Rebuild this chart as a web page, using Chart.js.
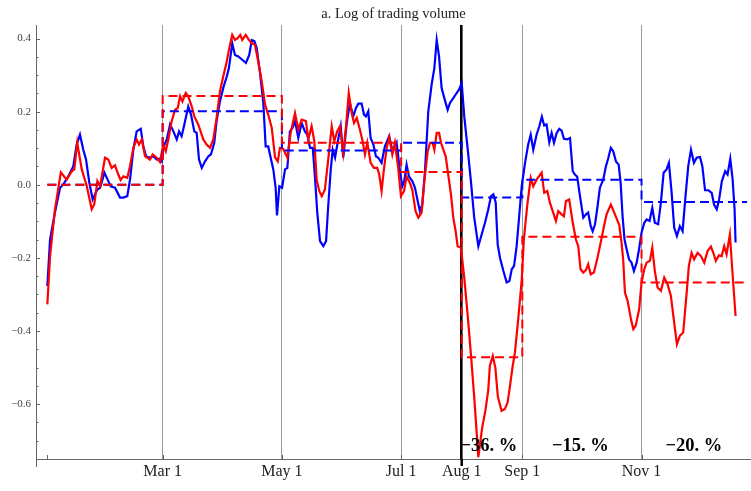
<!DOCTYPE html>
<html>
<head>
<meta charset="utf-8">
<script src="https://cdn.jsdelivr.net/npm/chart.js@4.4.0/dist/chart.umd.min.js"></script>
<style>
  html, body { margin: 0; padding: 0; background: #fff; }
  #wrap { width: 751px; height: 491px; }
</style>
</head>
<body>
<div id="wrap"><canvas id="myChart" width="751" height="491"></canvas></div>
<script>
// x values are days since Jan 1
var tickDays = [0, 59, 120, 181, 212, 243, 304];
var tickLabels = ["", "Mar 1", "May 1", "Jul 1", "Aug 1", "Sep 1", "Nov 1"];
var yTicks = [-0.6, -0.4, -0.2, 0, 0.2, 0.4];
var yTickLabels = ["\u22120.6", "\u22120.4", "\u22120.2", "0.0", "0.2", "0.4"];

var blueDays = [0, 1.4, 3.9, 6.5, 8.2, 10.7, 13.3, 15.0, 16.7, 18.4, 19.8, 21.5, 23.2, 24.4, 25.6, 27.0, 29.2, 31.2, 32.4, 34.6,
  37.2, 38.9, 40.9, 42.3, 44.0, 45.7, 47.8, 49.1, 50.5, 52.5, 54.2, 56.0, 57.3, 58.5, 59.3, 61.1, 62.8, 64.5, 66.2, 67.4,
  68.7, 70.1, 72.1, 73.5, 75.2, 76.4, 77.6, 79.0, 80.7, 82.4, 83.7, 85.4, 86.6, 88.3, 90.0, 91.8, 92.9, 94.6, 96.0, 97.7,
  99.7, 101.6, 103.3, 104.6, 105.9, 107.1, 108.8, 110.5, 111.7, 113.0, 113.9, 115.6, 116.8, 117.5, 118.7, 120.1, 121.6, 122.8, 124.1, 125.5,
  126.7, 128.4, 130.1, 131.8, 133.0, 134.4, 135.8, 136.9, 138.1, 139.5, 141.2, 142.6, 143.7, 145.0, 146.0, 147.2, 148.8, 150.1, 151.4, 153.1,
  154.8, 156.5, 157.9, 159.1, 160.8, 162.0, 163.0, 164.2, 165.4, 166.8, 168.1, 169.3, 171.0, 172.7, 174.9, 176.7, 178.7, 180.4, 181.6, 182.6,
  183.8, 185.0, 186.7, 188.1, 189.5, 190.6, 191.8, 193.2, 194.9, 196.6, 198.0, 199.2, 200.4, 201.7, 203.1, 204.8, 206.0, 207.7, 209.4, 210.6,
  212.0, 213.3, 215.0, 216.7, 218.4, 220.5, 222.2, 223.9, 225.6, 227.0, 228.2, 229.4, 230.4, 231.6, 233.3, 235.0, 236.4, 237.6, 238.8, 240.1,
  241.4, 242.7, 244.4, 246.0, 247.3, 248.6, 250.3, 251.7, 253.0, 254.2, 255.4, 256.8, 258.0, 259.2, 260.6, 261.9, 263.1, 264.3, 266.0, 267.4,
  268.8, 269.9, 271.1, 272.5, 274.2, 275.6, 276.7, 278.0, 279.0, 280.2, 281.3, 282.7, 284.4, 285.8, 286.9, 288.3, 289.5, 290.9, 292.3, 293.3,
  294.3, 295.3, 296.4, 297.6, 298.9, 300.1, 301.5, 302.7, 304.0, 305.4, 306.6, 308.1, 309.5, 310.8, 312.5, 313.9, 315.3, 316.8, 318.0, 319.4,
  320.7, 322.1, 323.6, 325.0, 326.5, 327.9, 329.3, 330.8, 332.2, 333.9, 335.1, 336.5, 338.2, 339.9, 341.1, 342.5, 343.7, 345.1, 346.8, 348.0,
  349.4, 350.6, 351.6, 352.1];
var blueVals = [-0.277, -0.149, -0.076, -0.008, 0.001, 0.023, 0.051, 0.110, 0.137, 0.096, 0.069, 0.005, -0.040, -0.026, -0.013, -0.008, 0.033, 0.010, -0.004, -0.008,
  -0.035, -0.035, -0.031, 0.014, 0.096, 0.146, 0.153, 0.105, 0.078, 0.074, 0.078, 0.069, 0.071, 0.064, 0.101, 0.124, 0.165, 0.146, 0.124, 0.146,
  0.133, 0.165, 0.214, 0.192, 0.146, 0.142, 0.069, 0.046, 0.064, 0.078, 0.083, 0.115, 0.174, 0.228, 0.265, 0.296, 0.319, 0.387, 0.355, 0.351,
  0.342, 0.333, 0.355, 0.396, 0.393, 0.374, 0.306, 0.224, 0.105, 0.105, 0.083, 0.042, -0.008, -0.084, -0.004, -0.008, 0.042, 0.046, 0.146, 0.156,
  0.174, 0.128, 0.169, 0.146, 0.137, 0.101, 0.101, 0.023, -0.076, -0.154, -0.168, -0.154, -0.058, 0.042, 0.096, 0.074, 0.124, 0.160, 0.074, 0.165,
  0.224, 0.187, 0.210, 0.222, 0.222, 0.192, 0.187, 0.201, 0.128, 0.110, 0.078, 0.074, 0.060, 0.105, 0.133, 0.090, 0.115, 0.037, -0.004, 0.010,
  0.055, 0.023, 0.010, -0.008, -0.045, -0.072, -0.054, 0.037, 0.201, 0.274, 0.319, 0.396, 0.351, 0.265, 0.237, 0.205, 0.224, 0.237, 0.251, 0.260,
  0.278, 0.187, 0.101, 0.010, -0.090, -0.168, -0.136, -0.104, -0.067, -0.031, -0.026, -0.049, -0.163, -0.200, -0.235, -0.267, -0.263, -0.231, -0.222, -0.168,
  -0.086, -0.004, 0.060, 0.110, 0.137, 0.096, 0.137, 0.160, 0.186, 0.162, 0.165, 0.116, 0.142, 0.115, 0.142, 0.153, 0.148, 0.126, 0.124, 0.128,
  0.037, 0.028, 0.022, -0.031, -0.090, -0.081, -0.076, -0.113, -0.127, -0.108, -0.067, -0.008, 0.014, 0.051, 0.071, 0.101, 0.092, 0.064, 0.055, 0.005,
  -0.086, -0.150, -0.177, -0.204, -0.213, -0.236, -0.213, -0.177, -0.131, -0.104, -0.095, -0.099, -0.063, -0.104, -0.108, -0.049, 0.033, 0.042, 0.060, -0.022,
  -0.117, -0.140, -0.113, -0.127, -0.031, 0.051, 0.096, 0.060, 0.074, 0.076, 0.051, -0.015, -0.015, -0.022, -0.054, -0.067, -0.040, 0.010, 0.037, 0.028,
  0.071, 0.014, -0.067, -0.158];

var redDays = [0, 1.4, 3.9, 6.9, 9.9, 12.5, 13.8, 15.3, 17.6, 20.2, 22.7, 24.0, 25.6, 27.0, 29.5, 31.2, 32.9, 34.6, 36.3, 37.5,
  38.9, 40.9, 42.3, 44.0, 45.7, 46.9, 48.3, 50.0, 52.5, 53.9, 56.0, 57.6, 59.3, 60.6, 61.9, 63.6, 65.3, 66.7, 67.9, 69.1,
  70.8, 72.1, 73.9, 75.2, 77.2, 79.8, 81.5, 83.2, 84.9, 86.6, 88.3, 90.0, 91.8, 92.9, 94.6, 96.0, 97.4, 98.7, 99.7, 101.5,
  103.2, 104.6, 106.2, 107.9, 109.7, 111.4, 113.0, 114.8, 116.5, 117.9, 119.0, 120.7, 122.8, 124.5, 126.7, 128.4, 130.1, 132.3, 133.5, 135.2,
  136.6, 137.8, 139.1, 140.4, 142.0, 143.7, 145.5, 146.8, 148.3, 149.7, 151.4, 152.8, 154.2, 155.7, 156.9, 158.3, 159.9, 161.3, 162.5, 163.7,
  165.4, 167.1, 168.8, 169.8, 171.0, 172.2, 173.6, 174.9, 176.5, 177.8, 179.5, 180.9, 182.5, 183.8, 185.5, 186.7, 188.4, 189.8, 191.5, 192.8,
  194.6, 195.8, 197.1, 198.0, 199.2, 200.4, 201.4, 202.6, 203.8, 205.1, 206.5, 207.7, 208.9, 209.9, 211.6, 213.3, 215.0, 216.7, 218.4, 220.5,
  222.5, 224.2, 225.6, 226.4, 227.9, 229.2, 230.5, 232.4, 234.1, 235.5, 236.7, 238.1, 239.2, 240.9, 242.7, 243.8, 245.5, 247.3, 248.6, 250.3,
  252.9, 254.2, 255.8, 257.1, 258.8, 260.2, 261.4, 263.1, 264.3, 265.3, 267.0, 268.8, 270.4, 271.6, 272.8, 274.2, 275.6, 276.7, 278.0, 279.6,
  281.3, 283.1, 284.8, 286.1, 288.3, 290.4, 292.6, 293.8, 294.6, 295.5, 296.9, 298.6, 299.8, 301.0, 302.8, 304.0, 305.4, 306.6, 308.3, 309.5,
  310.8, 312.2, 313.9, 315.6, 317.3, 319.0, 320.7, 322.1, 323.6, 325.3, 327.1, 328.2, 329.6, 330.9, 332.7, 334.4, 336.1, 337.8, 339.5, 340.7,
  342.0, 343.6, 345.0, 346.3, 347.5, 349.2, 350.4, 352.1];
var redVals = [-0.327, -0.195, -0.067, 0.034, 0.014, 0.037, 0.042, 0.115, 0.042, -0.004, -0.067, -0.054, 0.010, -0.004, 0.074, 0.069, 0.046, 0.053, 0.028, 0.013,
  0.023, 0.019, 0.051, 0.101, 0.124, 0.110, 0.124, 0.078, 0.069, 0.083, 0.074, 0.062, 0.110, 0.092, 0.124, 0.174, 0.205, 0.210, 0.242, 0.228,
  0.251, 0.242, 0.214, 0.187, 0.165, 0.124, 0.110, 0.101, 0.124, 0.183, 0.255, 0.296, 0.337, 0.369, 0.410, 0.396, 0.401, 0.410, 0.396, 0.410,
  0.396, 0.387, 0.383, 0.337, 0.283, 0.219, 0.192, 0.156, 0.075, 0.064, 0.101, 0.098, 0.074, 0.142, 0.196, 0.151, 0.178, 0.174, 0.124, 0.160,
  0.119, 0.014, -0.017, -0.031, -0.013, 0.069, 0.160, 0.119, 0.146, 0.160, 0.087, 0.160, 0.251, 0.196, 0.169, 0.183, 0.151, 0.119, 0.083, 0.115,
  0.060, 0.046, 0.046, 0.028, -0.017, 0.042, 0.101, 0.130, 0.083, 0.115, 0.046, -0.031, -0.017, 0.023, 0.005, -0.013, -0.072, -0.090, -0.076, 0.005,
  0.092, 0.115, 0.115, 0.096, 0.142, 0.142, 0.115, 0.096, 0.078, 0.028, -0.026, -0.090, -0.127, -0.168, -0.172, -0.254, -0.354, -0.463, -0.581, -0.745,
  -0.663, -0.615, -0.560, -0.495, -0.468, -0.500, -0.580, -0.618, -0.613, -0.595, -0.550, -0.495, -0.460, -0.368, -0.260, -0.149, -0.058, 0.019, -0.004, 0.014,
  0.033, -0.022, -0.017, -0.049, -0.076, -0.099, -0.072, -0.081, -0.086, -0.045, -0.040, -0.104, -0.149, -0.168, -0.231, -0.240, -0.233, -0.217, -0.245, -0.240,
  -0.204, -0.158, -0.113, -0.081, -0.054, -0.081, -0.110, -0.160, -0.204, -0.295, -0.318, -0.368, -0.395, -0.386, -0.340, -0.267, -0.231, -0.213, -0.208, -0.172,
  -0.236, -0.281, -0.290, -0.254, -0.272, -0.304, -0.377, -0.436, -0.413, -0.404, -0.295, -0.222, -0.186, -0.204, -0.186, -0.195, -0.213, -0.181, -0.169, -0.186,
  -0.208, -0.193, -0.195, -0.168, -0.190, -0.136, -0.231, -0.359];

// period means (dashed steps), each value holds from its start day to the next
var stepDays = [0, 59, 120, 181, 212, 243, 304, 358];
var blueMeans = [0.0, 0.201, 0.094, 0.115, -0.035, 0.014, -0.047, -0.047];
var redMeans = [0.0, 0.243, 0.115, 0.035, -0.472, -0.142, -0.267, -0.267];

// change labels in the last three periods
var pctLabels = ["\u221236. %", "\u221215. %", "\u221220. %"];
var pctDays = [225.9, 272.7, 330.8];
var pctLevel = -0.714;

var titleText = "a. Log of trading volume";

function pts(xs, ys) {
  return xs.map(function (x, i) { return { x: x, y: ys[i] }; });
}

var serif = "'Liberation Serif', 'Times New Roman', serif";

var decor = {
  id: "decor",
  afterDatasetsDraw: function (chart) {
    var ctx = chart.ctx, xs = chart.scales.x, ys = chart.scales.y, a = chart.chartArea;
    ctx.save();
    // title
    ctx.fillStyle = "#222";
    ctx.font = "14.5px " + serif;
    ctx.textAlign = "center";
    ctx.textBaseline = "middle";
    ctx.fillText(titleText, (a.left + a.right) / 2, 14);

    // y ticks (inside the axis)
    ctx.strokeStyle = "#666";
    ctx.lineWidth = 1;
    for (var k = -15; k <= 8; k++) {
      var y = Math.round(ys.getPixelForValue(k * 0.05)) + 0.5;
      var len = (k % 4 === 0) ? 4 : 2.5;
      ctx.beginPath();
      ctx.moveTo(a.left, y);
      ctx.lineTo(a.left + len, y);
      ctx.stroke();
    }
    // x ticks
    tickDays.forEach(function (d) {
      var x = Math.round(xs.getPixelForValue(d)) + 0.5;
      ctx.beginPath();
      ctx.moveTo(x, a.bottom);
      ctx.lineTo(x, a.bottom - 4);
      ctx.stroke();
    });
    // y axis runs a little past the x axis
    ctx.beginPath();
    ctx.moveTo(a.left + 0.5, a.bottom);
    ctx.lineTo(a.left + 0.5, a.bottom + 8);
    ctx.stroke();
    // Aug 1 marker continues below the axis
    ctx.strokeStyle = "#000";
    ctx.lineWidth = 2.5;
    var xa = xs.getPixelForValue(212);
    ctx.beginPath();
    ctx.moveTo(xa, a.bottom);
    ctx.lineTo(xa, a.bottom + 7);
    ctx.stroke();

    // percent labels
    ctx.fillStyle = "#000";
    ctx.font = "bold 18.5px " + serif;
    pctLabels.forEach(function (t, i) {
      ctx.fillText(t, xs.getPixelForValue(pctDays[i]), ys.getPixelForValue(pctLevel));
    });
    ctx.restore();
  }
};

var config = {
  type: "line",
  data: {
    datasets: [
      {
        label: "red mean",
        data: pts(stepDays, redMeans),
        borderColor: "#ff0000",
        borderWidth: 2,
        borderDash: [9, 5],
        stepped: "before",
        pointRadius: 0,
        fill: false,
        order: 0
      },
      {
        label: "blue mean",
        data: pts(stepDays, blueMeans),
        borderColor: "#0000ff",
        borderWidth: 2,
        borderDash: [9, 5],
        stepped: "before",
        pointRadius: 0,
        fill: false,
        order: 1
      },
      {
        label: "red",
        data: pts(redDays, redVals),
        borderColor: "#ff0000",
        borderWidth: 2.2,
        tension: 0,
        pointRadius: 0,
        fill: false,
        order: 2
      },
      {
        label: "blue",
        data: pts(blueDays, blueVals),
        borderColor: "#0000ff",
        borderWidth: 2.2,
        tension: 0,
        pointRadius: 0,
        fill: false,
        order: 3
      }
    ]
  },
  options: {
    responsive: false,
    animation: false,
    layout: { padding: { top: 25, left: 0, right: 0, bottom: 0 } },
    plugins: {
      legend: { display: false },
      tooltip: { enabled: false },
      title: { display: false }
    },
    scales: {
      x: {
        type: "linear",
        min: -5.8,
        max: 360,
        afterBuildTicks: function (s) {
          s.ticks = tickDays.map(function (v) { return { value: v }; });
        },
        afterFit: function (s) { s.height = 32; },
        grid: {
          drawTicks: false,
          color: function (c) {
            if (!c.tick) return "#999";
            if (c.tick.value === 212) return "#000";
            if (c.tick.value === 0) return "rgba(0,0,0,0)";
            return "#999";
          },
          lineWidth: function (c) {
            return c.tick && c.tick.value === 212 ? 2.6 : 1;
          }
        },
        border: { display: true, color: "#666", width: 1 },
        ticks: {
          padding: 3,
          autoSkip: false,
          maxRotation: 0,
          color: "#222",
          font: { family: serif, size: 16 },
          callback: function (v) {
            var i = tickDays.indexOf(v);
            return i >= 0 ? tickLabels[i] : "";
          }
        }
      },
      y: {
        min: -0.75,
        max: 0.437,
        afterBuildTicks: function (s) {
          s.ticks = yTicks.map(function (v) { return { value: v }; });
        },
        afterFit: function (s) { s.width = 36; },
        grid: { drawOnChartArea: false, drawTicks: false },
        border: { display: true, color: "#666", width: 1 },
        ticks: {
          padding: 5,
          color: "#444",
          font: { family: serif, size: 11 },
          callback: function (v) {
            var i = yTicks.findIndex(function (t) { return Math.abs(t - v) < 1e-9; });
            return i >= 0 ? yTickLabels[i] : "";
          }
        }
      }
    }
  },
  plugins: [decor]
};

var myChart = new Chart(document.getElementById("myChart"), config);
</script>
</body>
</html>
